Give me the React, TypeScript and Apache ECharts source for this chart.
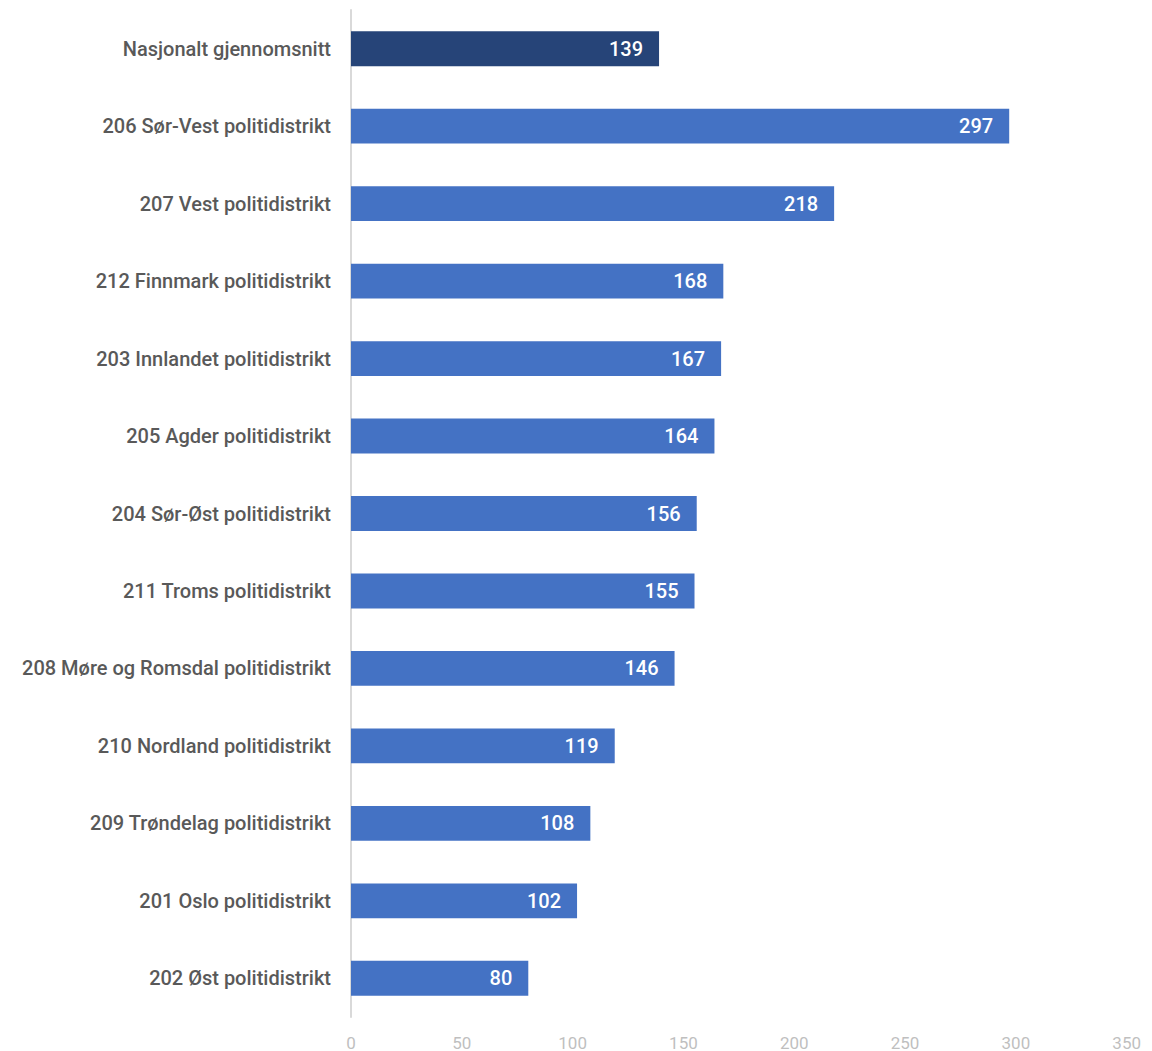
import React, { useEffect, useRef } from "react";
import * as echarts from "echarts";

const categories = [
  "Nasjonalt gjennomsnitt",
  "206 Sør-Vest politidistrikt",
  "207 Vest politidistrikt",
  "212 Finnmark politidistrikt",
  "203 Innlandet politidistrikt",
  "205 Agder politidistrikt",
  "204 Sør-Øst politidistrikt",
  "211 Troms politidistrikt",
  "208 Møre og Romsdal politidistrikt",
  "210 Nordland politidistrikt",
  "209 Trøndelag politidistrikt",
  "201 Oslo politidistrikt",
  "202 Øst politidistrikt",
];
const values = [139, 297, 218, 168, 167, 164, 156, 155, 146, 119, 108, 102, 80];
const highlightIndex = 0;

export default function App() {
  const ref = useRef<HTMLDivElement>(null);
  useEffect(() => {
    if (!ref.current) return;
    const chart = echarts.init(ref.current, null, { renderer: "svg" });
    const font = "Roboto, 'DejaVu Sans', sans-serif";
    chart.setOption({
      animation: false,
      grid: { left: 343, right: 16, top: 2, bottom: 26, containLabel: false },
      xAxis: {
        type: "value",
        min: 0,
        max: 350,
        interval: 50,
        axisLine: { show: false },
        axisTick: { show: false },
        splitLine: { show: false },
        axisLabel: { color: "#bfbfbf", fontSize: 17, fontFamily: font, margin: 17 },
      },
      yAxis: {
        type: "category",
        data: categories,
        inverse: true,
        axisLine: { show: true, lineStyle: { color: "#d9d9d9", width: 2 } },
        axisTick: { show: false },
        axisLabel: { color: "#595959", fontSize: 20, fontWeight: 500, fontFamily: font, margin: 20 },
      },
      series: [
        {
          type: "bar",
          barWidth: "45%",
          data: values.map((v, i) => ({
            value: v,
            itemStyle: { color: i === highlightIndex ? "#264478" : "#4472C4" },
          })),
          label: {
            show: true,
            position: "insideRight",
            distance: 16,
            color: "#ffffff",
            fontSize: 20,
            fontWeight: 500,
            fontFamily: font,
          },
        },
      ],
    });
    return () => chart.dispose();
  }, []);
  return <div ref={ref} style={{ width: 1136, height: 1043 }} />;
}
